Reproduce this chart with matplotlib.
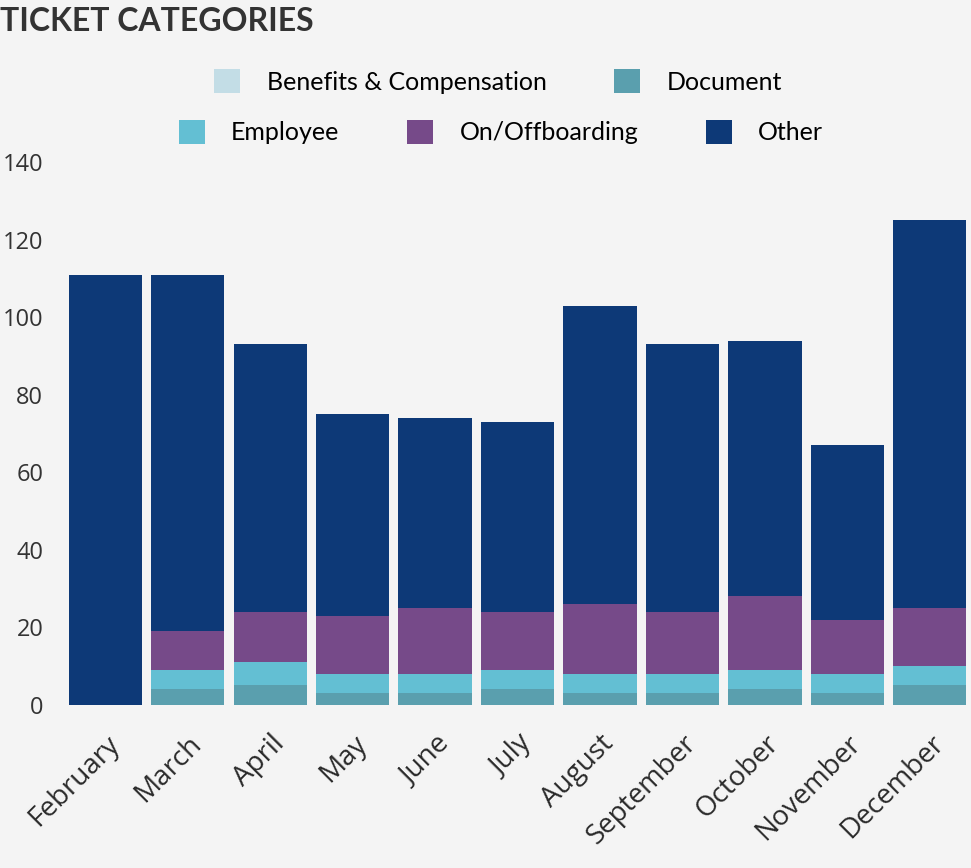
import numpy as np
import matplotlib
matplotlib.use('Agg')
import matplotlib.pyplot as plt
from matplotlib.patches import Patch

plt.rcParams['font.family'] = ['Lato', 'DejaVu Sans']

months = ['February', 'March', 'April', 'May', 'June', 'July', 'August',
          'September', 'October', 'November', 'December']
benefits = [0, 0, 0, 0, 0, 0, 0, 0, 0, 0, 0]
document = [0, 4, 5, 3, 3, 4, 3, 3, 4, 3, 5]
employee = [0, 5, 6, 5, 5, 5, 5, 5, 5, 5, 5]
onboarding = [0, 10, 13, 15, 17, 15, 18, 16, 19, 14, 15]
other = [111, 92, 69, 52, 49, 49, 77, 69, 66, 45, 100]
yticks = [0, 20, 40, 60, 80, 100, 120, 140]

series = [
    ('Benefits & Compensation', benefits, '#c3dde6'),
    ('Document', document, '#5a9fae'),
    ('Employee', employee, '#63bfd3'),
    ('On/Offboarding', onboarding, '#764a89'),
    ('Other', other, '#0d3977'),
]

bg = '#f4f4f4'
tick_font = ['Open Sans', 'DejaVu Sans']
fig = plt.figure(figsize=(9.71, 8.68), dpi=100, facecolor=bg)
ax = fig.add_axes([0.066, 0.188, 0.934, 0.625], facecolor=bg)

x = np.arange(len(months))
bottom = np.zeros(len(months))
for name, vals, col in series:
    vals = np.array(vals, dtype=float)
    ax.bar(x, vals, width=0.89, bottom=bottom, color=col, label=name)
    bottom += vals

ax.set_xlim(-0.5, len(months) - 0.5)
ax.set_ylim(0, 140)
ax.set_yticks(yticks)
ax.set_yticklabels([str(v) for v in yticks], family=tick_font, fontsize=17,
                   color='#333333')
ax.set_xticks(x)
ax.set_xticklabels(months, rotation=45, ha='right', rotation_mode='anchor',
                   family=tick_font, fontsize=20, color='#2a2a2a')
ax.tick_params(axis='both', length=0)
ax.tick_params(axis='y', pad=15)
ax.tick_params(axis='x', pad=18)
for s in ax.spines.values():
    s.set_visible(False)

fig.text(0.0, 0.975, 'TICKET CATEGORIES', fontsize=23, fontweight='bold',
         color='#333333', ha='left', va='center')

h = [Patch(facecolor=c, label=n) for n, _, c in series]
kw = dict(frameon=False, fontsize=18, handlelength=1.05, handleheight=1.1,
          columnspacing=2.7, handletextpad=1.05, loc='center')
fig.legend(handles=h[:2], ncol=2, bbox_to_anchor=(0.513, 0.906), **kw)
fig.legend(handles=h[2:], ncol=3, bbox_to_anchor=(0.516, 0.848), **kw)

plt.savefig('out.png', dpi=100, facecolor=bg)
